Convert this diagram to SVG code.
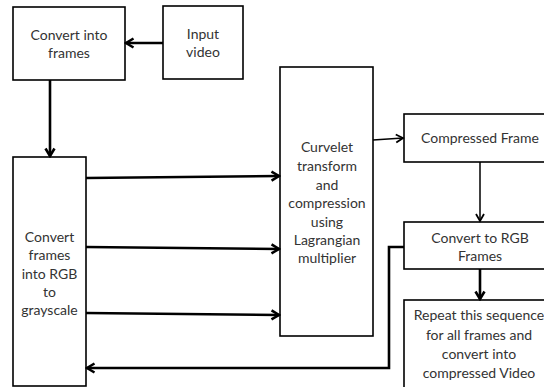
<svg xmlns="http://www.w3.org/2000/svg" width="544" height="387" viewBox="0 0 544 387">
<style>
.box{fill:#fff;stroke:#000;stroke-width:1.6}
.t{font-family:Lato,"Liberation Sans",sans-serif;font-size:14px;fill:#333;text-anchor:middle}
.thick{fill:none;stroke:#000;stroke-width:2.6;marker-end:url(#ah)}
.thin{fill:none;stroke:#000;stroke-width:1.5;marker-end:url(#ah2)}
.plain{fill:none;stroke:#000;stroke-width:2.6}
</style>
<defs>
<marker id="ah" markerUnits="userSpaceOnUse" viewBox="0 0 12 12" markerWidth="12" markerHeight="12" refX="10" refY="6" orient="auto">
<path d="M2.5,1.5 L10,6 L2.5,10.5" fill="none" stroke="#000" stroke-width="2.6"/>
</marker>
<marker id="ah2" markerUnits="userSpaceOnUse" viewBox="0 0 12 12" markerWidth="12" markerHeight="12" refX="10" refY="6" orient="auto">
<path d="M3,2 L10,6 L3,10" fill="none" stroke="#000" stroke-width="1.8"/>
</marker>
</defs>
<rect width="544" height="387" fill="#fff"/>
<g id="n1"><rect class="box" x="13" y="7" width="112" height="73"/>
<text class="t" x="69" y="40">Convert into</text><text class="t" x="69" y="58">frames</text></g>
<g id="n2"><rect class="box" x="163" y="6" width="80" height="73"/>
<text class="t" x="203" y="39">Input</text><text class="t" x="203" y="57">video</text></g>
<g id="n3"><rect class="box" x="13" y="157" width="73" height="229"/>
<text class="t" x="49.5" y="242">Convert</text><text class="t" x="49.5" y="260">frames</text><text class="t" x="49.5" y="279">into RGB</text><text class="t" x="49.5" y="297">to</text><text class="t" x="49.5" y="315">grayscale</text></g>
<g id="n4"><rect class="box" x="280" y="67" width="93" height="269"/>
<text class="t" x="327" y="152">Curvelet</text><text class="t" x="327" y="171">transform</text><text class="t" x="327" y="190">and</text><text class="t" x="327" y="208">compression</text><text class="t" x="327" y="227">using</text><text class="t" x="327" y="245">Lagrangian</text><text class="t" x="327" y="263">multiplier</text></g>
<g id="n5"><rect class="box" x="404" y="114" width="152" height="48"/>
<text class="t" x="480" y="143">Compressed Frame</text></g>
<g id="n6"><rect class="box" x="404" y="222" width="152" height="47"/>
<text class="t" x="480" y="243">Convert to RGB</text><text class="t" x="480" y="261">Frames</text></g>
<g id="n7"><rect class="box" x="404" y="300" width="152" height="95"/>
<text class="t" x="479" y="320">Repeat this sequence</text><text class="t" x="479" y="340">for all frames and</text><text class="t" x="479" y="359">convert into</text><text class="t" x="479" y="378">compressed Video</text></g>
<g id="connectors">
<path class="thick" d="M163,43 L126,43"/>
<path class="thick" d="M50,80 L50,156"/>
<path class="thick" d="M86,178 L279,176"/>
<path class="thick" d="M86,247 L279,249"/>
<path class="thick" d="M86,313 L279,315"/>
<path class="thin" d="M373,140 L403,138"/>
<path class="thin" d="M480,162 L480,221"/>
<path class="thick" d="M480,269 L480,299"/>
<path class="thick" d="M404,247 L389,247 L389,368 L87,368"/>
</g>
</svg>
